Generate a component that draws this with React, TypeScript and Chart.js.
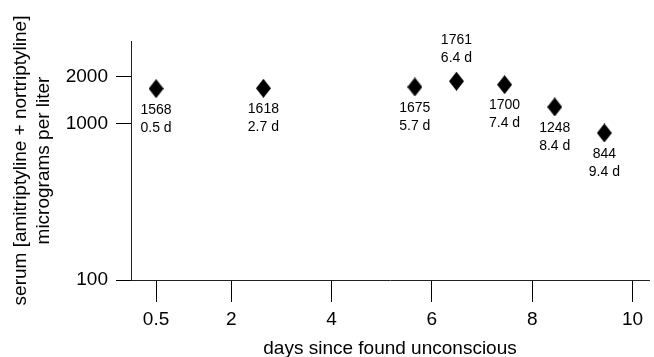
import React, { useEffect, useRef } from "react";
import { Chart, registerables } from "chart.js";

Chart.register(...registerables);

// Point positions
const days: number[] = [0.5, 2.64, 5.66, 6.49, 7.45, 8.45, 9.44];
const concentrations: number[] = [1683, 1692, 1726, 1879, 1786, 1285, 875];

// Annotation texts shown next to each point
const concentrationLabels: string[] = ["1568", "1618", "1675", "1761", "1700", "1248", "844"];
const dayLabels: string[] = ["0.5 d", "2.7 d", "5.7 d", "6.4 d", "7.4 d", "8.4 d", "9.4 d"];

// Axis ticks
const xTicks: number[] = [0.5, 2, 4, 6, 8, 10];
const yTicks: number[] = [100, 1000, 2000];

const yTitle: string[] = ["serum [amitriptyline + nortriptyline]", "micrograms per liter"];
const xTitle = "days since found unconscious";

const FONT = "Arial, 'Liberation Sans', sans-serif";

function makeDiamond(): HTMLCanvasElement {
  const c = document.createElement("canvas");
  c.width = 15;
  c.height = 19;
  const g = c.getContext("2d")!;
  g.fillStyle = "#000";
  g.beginPath();
  g.moveTo(7.5, 0);
  g.lineTo(15, 9.5);
  g.lineTo(7.5, 19);
  g.lineTo(0, 9.5);
  g.closePath();
  g.fill();
  return c;
}

const labelPlugin = {
  id: "pointLabels",
  afterDatasetsDraw(chart: any) {
    const ctx = chart.ctx;
    const meta = chart.getDatasetMeta(0);
    ctx.save();
    ctx.fillStyle = "#000";
    ctx.font = `14px ${FONT}`;
    ctx.textAlign = "center";
    ctx.textBaseline = "middle";
    meta.data.forEach((el: any, i: number) => {
      const above = i === 3;
      const o1 = above ? -41 : 21;
      const o2 = above ? -23 : 39;
      ctx.fillText(concentrationLabels[i], el.x, el.y + o1);
      ctx.fillText(dayLabels[i], el.x, el.y + o2);
    });
    ctx.restore();
  },
};

export default function App() {
  const ref = useRef<HTMLCanvasElement | null>(null);

  useEffect(() => {
    document.body.style.margin = "0";
    const canvas = ref.current!;
    const chart = new Chart(canvas, {
      type: "scatter",
      data: {
        datasets: [
          {
            data: days.map((d, i) => ({ x: d, y: concentrations[i] })),
            pointStyle: makeDiamond() as any,
            showLine: false,
          },
        ],
      },
      options: {
        animation: false,
        responsive: false,
        devicePixelRatio: 1,
        layout: { padding: { top: 41, right: 4, left: 0, bottom: 0 } },
        plugins: { legend: { display: false }, tooltip: { enabled: false } },
        scales: {
          x: {
            type: "linear",
            min: 0,
            max: 10.33,
            afterBuildTicks: (s: any) => {
              s.ticks = xTicks.map((v) => ({ value: v }));
            },
            afterFit: (s: any) => {
              s.height = 77;
            },
            ticks: {
              color: "#000",
              font: { family: FONT, size: 19 },
              padding: 6,
              maxRotation: 0,
              autoSkip: false,
              callback: (v: any) => String(v),
            },
            grid: {
              drawOnChartArea: false,
              drawTicks: true,
              tickLength: 22,
              color: "#000",
              lineWidth: 1,
            },
            border: { display: true, color: "#222", width: 1 },
            title: {
              display: true,
              text: xTitle,
              color: "#000",
              font: { family: FONT, size: 19 },
              padding: { top: 0, bottom: -3 },
            },
          },
          y: {
            type: "logarithmic",
            min: 100,
            max: 3400,
            afterBuildTicks: (s: any) => {
              s.ticks = yTicks.map((v) => ({ value: v }));
            },
            afterFit: (s: any) => {
              s.width = 131;
            },
            ticks: {
              color: "#000",
              font: { family: FONT, size: 19 },
              padding: 8,
              autoSkip: false,
              callback: (v: any) => String(v),
            },
            grid: {
              drawOnChartArea: false,
              drawTicks: true,
              tickLength: 15,
              color: "#000",
              lineWidth: 1,
            },
            border: { display: true, color: "#222", width: 1 },
            title: {
              display: true,
              text: yTitle,
              color: "#000",
              font: { family: FONT, size: 19 },
              padding: { top: 9.6, bottom: 0 },
            },
          },
        },
      },
      plugins: [labelPlugin],
    });
    return () => chart.destroy();
  }, []);

  return <canvas ref={ref} width={654} height={357} style={{ display: "block" }} />;
}
